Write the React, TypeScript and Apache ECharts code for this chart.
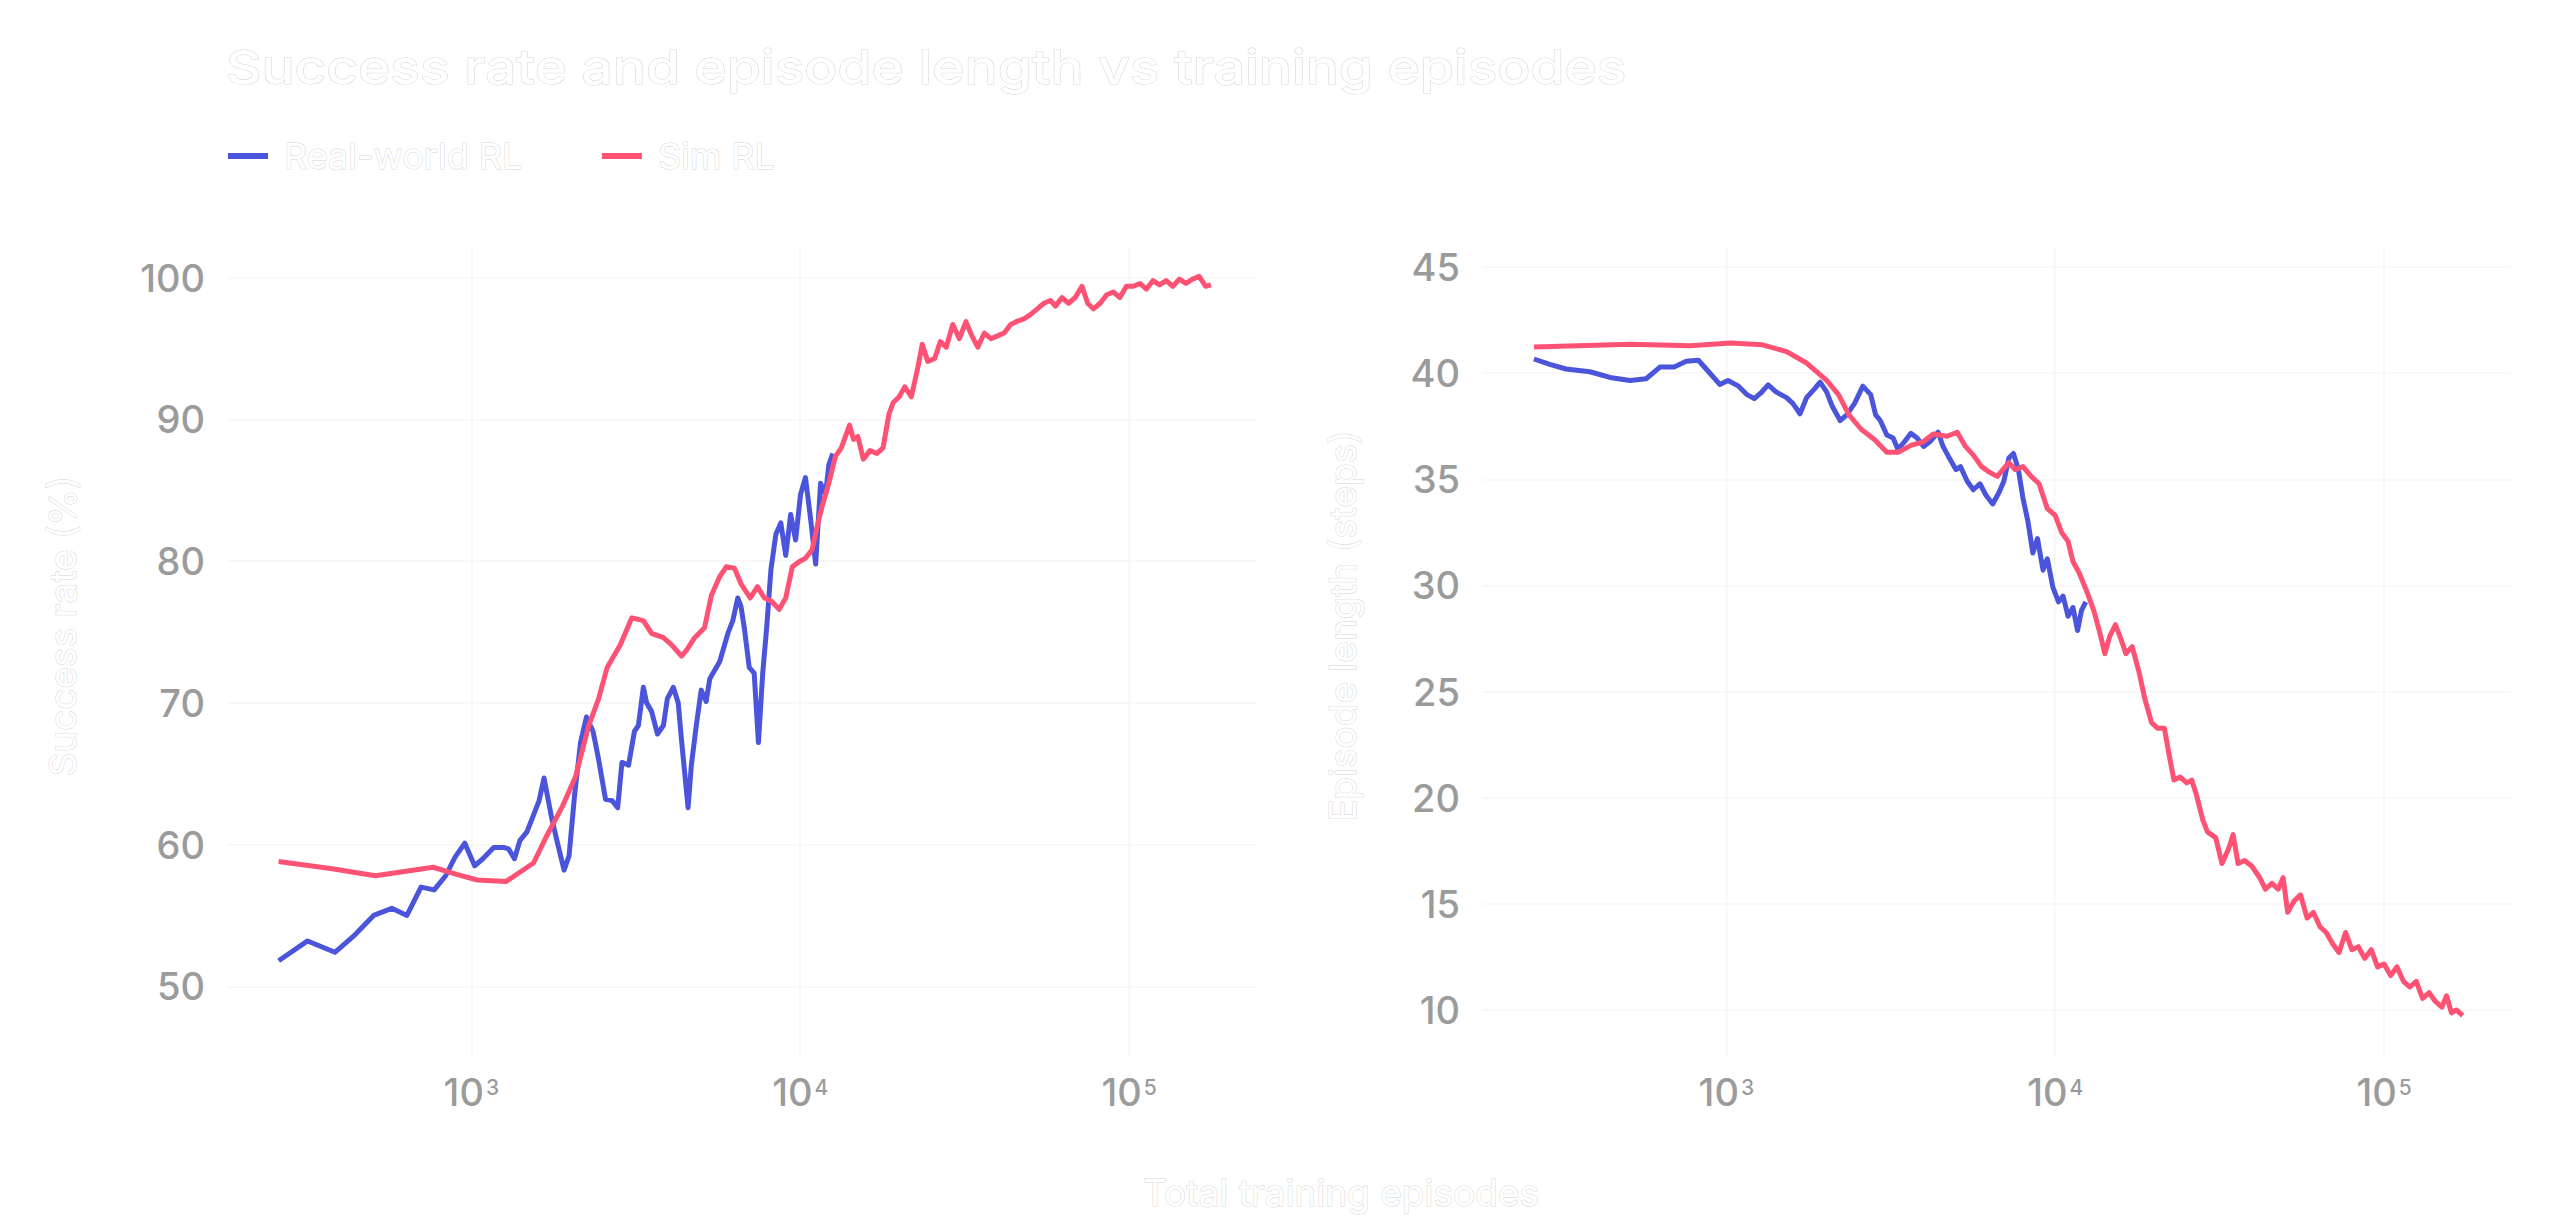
import React, { useEffect, useRef } from "react";
import * as echarts from "echarts";

// ---- Data (x stored as log10(total training episodes), y) ----
const realSuccess: [number, number][] = [
  [2.414, 51.8], [2.502, 53.2], [2.585, 52.4], [2.64, 53.5], [2.703, 55.0], [2.758, 55.5], [2.804, 55.0],
  [2.847, 57.0], [2.887, 56.8], [2.922, 57.8], [2.95, 59.1], [2.98, 60.1], [3.01, 58.5], [3.035, 59.0],
  [3.068, 59.8], [3.098, 59.8], [3.113, 59.7], [3.131, 59.0], [3.148, 60.3], [3.169, 60.9], [3.186, 61.9],
  [3.206, 63.1], [3.221, 64.7], [3.244, 61.9], [3.262, 60.1], [3.282, 58.2], [3.297, 59.2], [3.314, 63.5],
  [3.332, 67.2], [3.35, 69.0], [3.37, 68.0], [3.387, 66.0], [3.408, 63.2], [3.428, 63.1], [3.445, 62.6],
  [3.458, 65.8], [3.478, 65.6], [3.496, 68.0], [3.508, 68.4], [3.523, 71.1], [3.533, 70.0], [3.548, 69.4],
  [3.566, 67.8], [3.584, 68.4], [3.596, 70.3], [3.614, 71.1], [3.629, 70.0], [3.639, 67.4], [3.649, 65.0],
  [3.659, 62.6], [3.669, 65.6], [3.684, 68.4], [3.699, 70.9], [3.714, 70.1], [3.725, 71.7], [3.74, 72.3],
  [3.755, 72.9], [3.765, 73.7], [3.78, 74.9], [3.795, 75.8], [3.81, 77.4], [3.82, 76.8], [3.83, 75.3],
  [3.845, 72.5], [3.86, 72.1], [3.873, 67.2], [3.886, 72.1], [3.898, 75.3], [3.911, 79.4], [3.926, 81.9],
  [3.941, 82.7], [3.956, 80.4], [3.971, 83.3], [3.986, 81.5], [4.001, 84.7], [4.016, 85.9], [4.031, 83.1],
  [4.047, 79.8], [4.062, 85.5], [4.077, 84.7], [4.087, 86.8], [4.099, 87.6],
];

const simSuccess: [number, number][] = [
  [2.414, 58.8], [2.577, 58.3], [2.708, 57.8], [2.884, 58.4], [2.955, 57.9], [3.018, 57.5], [3.106, 57.4],
  [3.189, 58.7], [3.231, 60.7], [3.277, 62.7], [3.317, 64.8], [3.357, 68.4], [3.387, 70.3], [3.413, 72.5],
  [3.453, 74.1], [3.488, 76.0], [3.523, 75.8], [3.548, 74.9], [3.584, 74.6], [3.609, 74.1], [3.639, 73.3],
  [3.654, 73.7], [3.679, 74.6], [3.709, 75.3], [3.73, 77.6], [3.755, 78.9], [3.775, 79.6], [3.8, 79.5],
  [3.82, 78.4], [3.848, 77.4], [3.87, 78.2], [3.891, 77.4], [3.911, 77.2], [3.936, 76.6], [3.956, 77.4],
  [3.976, 79.6], [3.999, 80.0], [4.016, 80.2], [4.036, 80.8], [4.052, 82.5], [4.067, 83.9], [4.087, 85.5],
  [4.107, 87.4], [4.125, 88.0], [4.15, 89.6], [4.162, 88.6], [4.175, 88.8], [4.192, 87.2], [4.212, 87.8],
  [4.233, 87.6], [4.252, 88.0], [4.27, 90.4], [4.283, 91.2], [4.301, 91.6], [4.318, 92.3], [4.338, 91.6],
  [4.358, 93.7], [4.371, 95.3], [4.388, 94.1], [4.409, 94.3], [4.426, 95.5], [4.444, 95.1], [4.464, 96.7],
  [4.484, 95.7], [4.504, 96.9], [4.522, 95.9], [4.54, 95.1], [4.56, 96.1], [4.58, 95.7], [4.6, 95.9],
  [4.62, 96.1], [4.64, 96.7], [4.657, 96.9], [4.68, 97.1], [4.7, 97.4], [4.721, 97.8], [4.741, 98.2],
  [4.761, 98.4], [4.776, 98.0], [4.796, 98.6], [4.816, 98.2], [4.836, 98.6], [4.857, 99.4], [4.874, 98.2],
  [4.892, 97.8], [4.912, 98.2], [4.932, 98.8], [4.952, 99.0], [4.972, 98.6], [4.992, 99.4], [5.013, 99.4],
  [5.033, 99.6], [5.053, 99.2], [5.073, 99.8], [5.093, 99.5], [5.113, 99.8], [5.133, 99.4], [5.153, 99.9],
  [5.173, 99.6], [5.193, 99.9], [5.213, 100.1], [5.233, 99.4], [5.249, 99.5],
];

const realLength: [number, number][] = [
  [2.415, 40.67], [2.463, 40.42], [2.512, 40.2], [2.585, 40.07], [2.646, 39.8], [2.707, 39.66], [2.756, 39.74],
  [2.798, 40.29], [2.841, 40.29], [2.878, 40.56], [2.915, 40.61], [2.946, 40.07], [2.98, 39.47], [3.005, 39.66],
  [3.037, 39.39], [3.063, 38.99], [3.085, 38.8], [3.105, 39.07], [3.127, 39.45], [3.151, 39.12], [3.183, 38.85],
  [3.202, 38.58], [3.224, 38.09], [3.244, 38.85], [3.268, 39.26], [3.285, 39.58], [3.305, 39.12], [3.322, 38.44],
  [3.346, 37.77], [3.366, 38.04], [3.39, 38.58], [3.415, 39.39], [3.439, 38.99], [3.454, 38.04], [3.468, 37.77],
  [3.488, 37.09], [3.507, 36.95], [3.522, 36.41], [3.541, 36.76], [3.561, 37.17], [3.58, 36.95], [3.6, 36.55],
  [3.622, 36.82], [3.644, 37.22], [3.659, 36.55], [3.678, 36.0], [3.698, 35.46], [3.712, 35.6], [3.732, 34.92],
  [3.751, 34.51], [3.771, 34.79], [3.79, 34.24], [3.81, 33.84], [3.829, 34.38], [3.844, 34.92], [3.859, 36.0],
  [3.873, 36.22], [3.888, 35.46], [3.902, 34.11], [3.917, 33.02], [3.932, 31.53], [3.946, 32.21], [3.963, 30.72],
  [3.976, 31.26], [3.993, 29.91], [4.01, 29.23], [4.024, 29.5], [4.039, 28.55], [4.054, 28.96], [4.068, 27.88],
  [4.08, 28.83], [4.093, 29.23],
];

const simLength: [number, number][] = [
  [2.415, 41.23], [2.707, 41.37], [2.89, 41.29], [3.012, 41.42], [3.11, 41.34], [3.183, 41.02], [3.244, 40.48],
  [3.305, 39.66], [3.341, 38.99], [3.373, 38.04], [3.41, 37.36], [3.451, 36.87], [3.488, 36.28], [3.524, 36.28],
  [3.561, 36.6], [3.598, 36.76], [3.629, 37.14], [3.671, 37.03], [3.702, 37.22], [3.727, 36.55], [3.751, 36.14],
  [3.776, 35.6], [3.8, 35.33], [3.824, 35.14], [3.844, 35.52], [3.859, 35.79], [3.878, 35.46], [3.902, 35.6],
  [3.927, 35.14], [3.951, 34.79], [3.976, 33.62], [4.0, 33.3], [4.02, 32.48], [4.039, 32.08], [4.054, 31.13],
  [4.073, 30.59], [4.098, 29.64], [4.117, 28.83], [4.134, 27.88], [4.151, 26.79], [4.166, 27.61], [4.183, 28.15],
  [4.2, 27.47], [4.215, 26.79], [4.234, 27.12], [4.254, 25.98], [4.273, 24.63], [4.293, 23.54], [4.312, 23.27],
  [4.332, 23.27], [4.346, 22.05], [4.361, 20.83], [4.38, 20.97], [4.4, 20.7], [4.415, 20.83], [4.429, 20.16],
  [4.449, 18.94], [4.463, 18.39], [4.488, 18.12], [4.507, 16.9], [4.527, 17.58], [4.541, 18.26], [4.556, 16.9],
  [4.576, 17.04], [4.598, 16.77], [4.622, 16.23], [4.639, 15.69], [4.659, 15.96], [4.678, 15.69], [4.693, 16.23],
  [4.707, 14.6], [4.727, 15.14], [4.746, 15.42], [4.766, 14.33], [4.785, 14.6], [4.805, 13.92], [4.824, 13.65],
  [4.844, 13.11], [4.863, 12.71], [4.883, 13.65], [4.902, 12.84], [4.922, 12.98], [4.941, 12.43], [4.961, 12.84],
  [4.98, 12.03], [5.0, 12.16], [5.02, 11.62], [5.039, 12.03], [5.059, 11.35], [5.078, 11.08], [5.098, 11.35],
  [5.117, 10.54], [5.137, 10.81], [5.156, 10.4], [5.176, 10.13], [5.19, 10.67], [5.205, 9.86], [5.22, 10.0],
  [5.239, 9.73],
];

const episodeTicks = [1000, 10000, 100000];
const successTicks = [50, 60, 70, 80, 90, 100];
const lengthTicks = [10, 15, 20, 25, 30, 35, 40, 45];
const seriesNames = ["Real-world RL", "Sim RL"];
const titleText = "Success rate and episode length vs training episodes";
const xTitle = "Total training episodes";
const yTitleLeft = "Success rate (%)";
const yTitleRight = "Episode length (steps)";

const BLUE = "#4b55db";
const RED = "#fe5274";
const GREY = "#9b9b9b";
const GRID = "#f6f6f6";
const FONT = "Inter, 'Noto Sans', sans-serif";

const toPoints = (arr: [number, number][]) => arr.map(([l, v]) => [Math.pow(10, l), v]);

const X_MIN = Math.pow(10, 2.26);
const X_MAX = Math.pow(10, 5.386);

const whiteText = {
  fill: "#ffffff",
  stroke: "#d6d6d6",
  lineWidth: 1,
  fontFamily: FONT,
};

function xAxisFor(gridIndex: number) {
  return {
    type: "log",
    logBase: 10,
    gridIndex,
    min: X_MIN,
    max: X_MAX,
    axisLine: { show: false },
    axisTick: { show: false, customValues: episodeTicks },
    splitLine: { show: true, lineStyle: { color: GRID, width: 1.5 } },
    axisLabel: {
      customValues: episodeTicks,
      margin: 16,
      formatter: (v: number) => `{b|10}{s|${Math.round(Math.log10(v))}}`,
      rich: {
        b: { fontSize: 38, lineHeight: 40, color: GREY, fontFamily: FONT, fontWeight: 500 },
        s: { fontSize: 21, lineHeight: 21, color: GREY, fontFamily: FONT, fontWeight: 500, verticalAlign: "top", padding: [5, 0, 0, 2] },
      },
    },
  };
}

function yAxisFor(gridIndex: number, min: number, max: number, ticks: number[]) {
  return {
    type: "value",
    gridIndex,
    min,
    max,
    axisLine: { show: false },
    axisTick: { show: false, customValues: ticks },
    splitLine: { show: true, lineStyle: { color: GRID, width: 1.5 } },
    axisLabel: {
      customValues: ticks,
      margin: 23,
      fontSize: 38,
      color: GREY,
      fontFamily: FONT,
      fontWeight: 500,
    },
  };
}

function lineSeries(name: string, color: string, data: [number, number][], idx: number) {
  return {
    name,
    type: "line",
    xAxisIndex: idx,
    yAxisIndex: idx,
    data: toPoints(data),
    showSymbol: false,
    symbol: "none",
    lineStyle: { color, width: 5, join: "round" },
    itemStyle: { color },
    emphasis: { disabled: true },
  };
}

export default function App() {
  const ref = useRef<HTMLDivElement>(null);
  useEffect(() => {
    if (!ref.current) return;
    const chart = echarts.init(ref.current, null, { renderer: "svg" });
    chart.setOption({
      animation: false,
      backgroundColor: "#ffffff",
      grid: [
        { left: 220, right: 1312, top: 240, bottom: 184 },
        { left: 1475, right: 57, top: 240, bottom: 184 },
      ],
      legend: {
        data: seriesNames,
        left: 215,
        top: 123,
        icon: "rect",
        itemWidth: 40,
        itemHeight: 6,
        itemGap: 79,
        textStyle: {
          fontSize: 36,
          lineHeight: 40,
          color: "#ffffff",
          textBorderColor: "#d6d6d6",
          textBorderWidth: 1,
          fontFamily: FONT,
          padding: [0, 0, 0, 11],
        },
      },
      xAxis: [xAxisFor(0), xAxisFor(1)],
      yAxis: [
        yAxisFor(0, 45.08, 102.1, successTicks),
        yAxisFor(1, 7.83, 45.9, lengthTicks),
      ],
      series: [
        lineSeries(seriesNames[0], BLUE, realSuccess, 0),
        lineSeries(seriesNames[1], RED, simSuccess, 0),
        lineSeries(seriesNames[0], BLUE, realLength, 1),
        lineSeries(seriesNames[1], RED, simLength, 1),
      ],
      graphic: [
        {
          type: "text",
          x: 218,
          y: 59,
          scaleX: 1.17,
          style: { ...whiteText, text: titleText, fontSize: 47, fontWeight: 500, verticalAlign: "middle" },
        },
        {
          type: "text",
          x: 1333,
          y: 1184,
          style: { ...whiteText, text: xTitle, fontSize: 37, align: "center", verticalAlign: "middle" },
        },
        {
          type: "text",
          x: 54,
          y: 618,
          rotation: Math.PI / 2,
          style: { ...whiteText, text: yTitleLeft, fontSize: 37, align: "center", verticalAlign: "middle" },
        },
        {
          type: "text",
          x: 1334,
          y: 618,
          rotation: Math.PI / 2,
          style: { ...whiteText, text: yTitleRight, fontSize: 37, align: "center", verticalAlign: "middle" },
        },
      ],
    });
    return () => chart.dispose();
  }, []);
  return <div ref={ref} style={{ width: 2560, height: 1232 }} />;
}
